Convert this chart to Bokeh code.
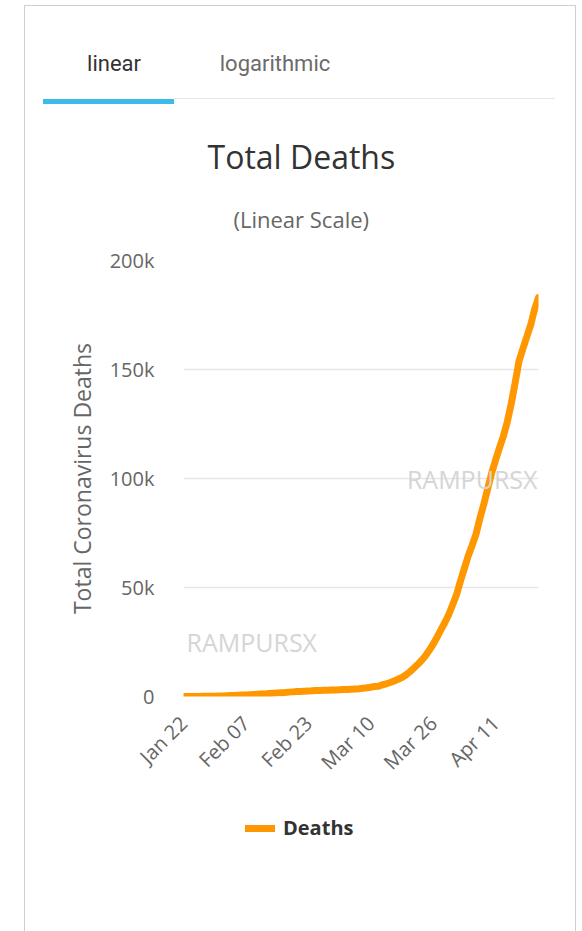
import pandas as pd
from bokeh.plotting import figure
from bokeh.models import (Range1d, FixedTicker, DatetimeTickFormatter, Div, Label,
                          Legend, LegendItem, ColumnDataSource, Title)
from bokeh.layouts import column
from bokeh.embed import file_html
from bokeh.resources import INLINE

# ---------------- data ----------------
start_date = "2020-01-22"
deaths = [
    17, 18, 26, 42, 56, 82, 131, 133, 171, 213,
    259, 362, 426, 492, 564, 634, 719, 806, 906, 1013, 1113, 1118, 1371, 1523,
    1666, 1770, 1868, 2007, 2122, 2247, 2251, 2458, 2469, 2629, 2708, 2770,
    2814, 2872, 2941,
    2996, 3085, 3160, 3254, 3348, 3460, 3558, 3802, 3988, 4262, 4615, 4720,
    5404, 5819, 6440, 7126, 7905, 8733, 9867, 11299, 12973, 14652, 16505,
    18625, 21181, 23970, 27198, 30652, 33925, 37582, 42107,
    46809, 52983, 58787, 64606, 69374, 74565, 81865, 88338, 95455, 102525,
    108503, 114091, 119482, 125984, 134177, 143800, 153822, 159509, 165044,
    170423, 177641, 183027,
]
dates = pd.date_range(start_date, periods=len(deaths), freq="D")
x_tick_dates = ["2020-01-22", "2020-02-07", "2020-02-23", "2020-03-10",
                "2020-03-26", "2020-04-11"]
y_ticks = [0, 50000, 100000, 150000, 200000]
y_tick_labels = ["0", "50k", "100k", "150k", "200k"]
tab_labels = ["linear", "logarithmic"]
series_name = "Deaths"
chart_title = "Total Deaths"
chart_subtitle = "(Linear Scale)"
y_title = "Total Coronavirus Deaths"
watermark = "RAMPURSX"

FONT = "Open Sans"
ORANGE = "#FF9800"
W = 550

# ---------------- header tabs (HTML) ----------------
tabs_html = f"""
<div style="position:relative;width:{W}px;height:104px;font-family:Roboto,sans-serif;">
  <div style="position:absolute;left:29px;top:47px;width:120px;text-align:center;
              font-size:22px;line-height:22px;color:#333333;">{tab_labels[0]}</div>
  <div style="position:absolute;left:190px;top:47px;width:120px;text-align:center;
              font-size:22px;line-height:22px;color:#6b6b6b;">{tab_labels[1]}</div>
  <div style="position:absolute;left:149px;top:92px;width:381px;height:1px;background:#e6e6e6;"></div>
  <div style="position:absolute;left:18px;top:93px;width:131px;height:5px;background:#3db9ea;"></div>
</div>
"""
tabs = Div(text=tabs_html, width=W, height=104, margin=0)

# ---------------- main chart ----------------
src = ColumnDataSource(dict(date=dates, deaths=deaths))
p = figure(frame_width=355, frame_height=436, x_axis_type="datetime",
           x_range=Range1d(dates[0], dates[-1]), y_range=Range1d(0, 200000),
           output_backend="svg", toolbar_location=None,
           min_border_left=158, min_border_right=37,
           min_border_top=150, min_border_bottom=80)
p.outline_line_color = None
p.xgrid.visible = False
p.ygrid.ticker = FixedTicker(ticks=y_ticks)
p.ygrid.grid_line_color = "#e6e6e6"
p.ygrid.grid_line_width = 1.5

p.add_layout(Title(text=chart_subtitle, align="left", offset=50,
                   text_font=FONT, text_font_size="22px", text_font_style="normal",
                   text_color="#666666", standoff=54), "above")
p.add_layout(Title(text=chart_title, align="left", offset=24,
                   text_font=FONT, text_font_size="32px", text_font_style="normal",
                   text_color="#333333", standoff=-7), "above")

ms = [pd.Timestamp(d).value / 1e6 for d in x_tick_dates]
p.xaxis.ticker = FixedTicker(ticks=ms)
p.xaxis.formatter = DatetimeTickFormatter(days="%b %d", months="%b %d")
p.xaxis.major_label_orientation = 0.785398
p.xaxis.major_label_standoff = 17

p.yaxis.ticker = FixedTicker(ticks=y_ticks)
p.yaxis.major_label_overrides = {t: l for t, l in zip(y_ticks, y_tick_labels)}
p.yaxis.major_label_standoff = 23
p.yaxis.axis_label = y_title
p.yaxis.axis_label_standoff = 9
p.yaxis.axis_label_text_font = FONT
p.yaxis.axis_label_text_font_size = "23px"
p.yaxis.axis_label_text_font_style = "normal"
p.yaxis.axis_label_text_color = "#666666"

for ax in (p.xaxis, p.yaxis):
    ax.axis_line_color = None
    ax.major_tick_line_color = None
    ax.minor_tick_line_color = None
    ax.major_label_text_font = FONT
    ax.major_label_text_font_size = "20px"
    ax.major_label_text_color = "#666666"

p.line(x="date", y="deaths", source=src, line_width=7, line_color=ORANGE,
       line_join="round", line_cap="round")

t0 = pd.Timestamp(start_date)
def ms_of(days):
    return (t0 + pd.Timedelta(days=days)).value / 1e6

# watermarks kept inside the plotting area
for dx, yv in [(17.5, 25200), (74.0, 100000)]:
    p.add_layout(Label(x=ms_of(dx), y=yv, text=watermark, text_font=FONT,
                       text_font_size="25px", text_color="#d5d5d5",
                       text_align="center", text_baseline="middle"))

# ---------------- legend strip (separate figure below the chart) ----------------
lg = figure(frame_width=355, frame_height=150, x_range=Range1d(0, 1), y_range=Range1d(0, 1),
            output_backend="svg", toolbar_location=None,
            min_border_left=158, min_border_right=37, min_border_top=0, min_border_bottom=0)
lg.axis.visible = False
lg.grid.visible = False
lg.outline_line_color = None
# same series, lying outside this strip's ranges: only its legend key shows
key = lg.line(x="date", y="deaths", source=src, line_width=7, line_color=ORANGE,
              line_cap="round")
legend = Legend(items=[LegendItem(label=series_name, renderers=[key])],
                location=(62, 96), orientation="horizontal",
                label_text_font=FONT, label_text_font_size="20px",
                label_text_font_style="bold", label_text_color="#333333",
                glyph_width=30, glyph_height=20, label_standoff=8,
                padding=0, margin=0, border_line_color=None,
                background_fill_alpha=0)
lg.add_layout(legend, "center")

layout = column(tabs, p, lg, margin=(5, 0, 0, 24),
                styles={"border-left": "1px solid #cfcfcf",
                        "border-right": "1px solid #cfcfcf",
                        "border-top": "1px solid #cfcfcf"})

open("out.html", "w").write(file_html(layout, INLINE))
